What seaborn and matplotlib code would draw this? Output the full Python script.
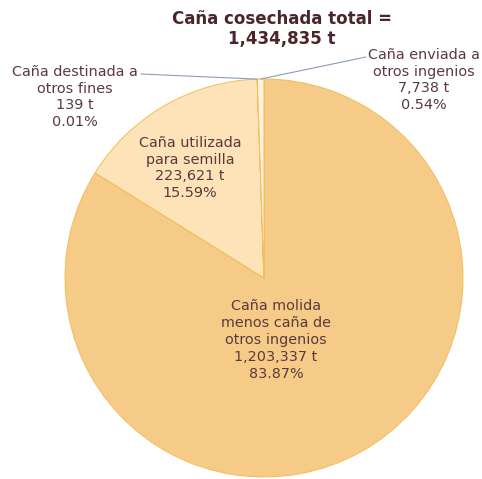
import numpy as np
import matplotlib
matplotlib.use("Agg")
import matplotlib.pyplot as plt
import seaborn as sns

# data
labels = [
    "Caña molida\nmenos caña de\notros ingenios",
    "Caña utilizada\npara semilla",
    "Caña destinada a\notros fines",
    "Caña enviada a\notros ingenios",
]
tons = [1203337, 223621, 139, 7738]
shares = ["83.87%", "15.59%", "0.01%", "0.54%"]
total_label = "1,434,835 t"

COLORS = ["#F6CB88", "#FDE3B7", "#FFF6E8", "#FFF1DC"]
TEXT_COLOR = "#5A3A3E"
TITLE_COLOR = "#4A2529"
LEADER_COLOR = "#8C9DB8"

sns.set_style("white")
plt.rcParams['font.family'] = ['DejaVu Sans']

W, H = 482, 479
fig = plt.figure(figsize=(W / 100, H / 100), dpi=100)
fig.patch.set_facecolor("white")

# pie centre and radius in pixels
cx, cy, r = 264, 278, 199
ax = fig.add_axes([(cx - r) / W, (H - cy - r) / H, 2 * r / W, 2 * r / H])

wedges, _ = ax.pie(
    tons,
    colors=COLORS,
    startangle=90,
    counterclock=False,
    radius=1,
    wedgeprops=dict(edgecolor="#EFBE55", linewidth=0.7),
)
ax.set_xlim(-1, 1)
ax.set_ylim(-1, 1)
ax.set_aspect("equal")
ax.axis("off")


def px(x, y):
    # pixel position -> data position of the pie axes
    return (x - cx) / r, (cy - y) / r


def fmt(v):
    return f"{v:,} t"


FS = 10.4

# labels inside the two big slices
pos_inside = [(276, 340), (190, 168)]
for i, (x, y) in enumerate(pos_inside):
    tx, ty = px(x, y)
    ax.text(tx, ty, f"{labels[i]}\n{fmt(tons[i])}\n{shares[i]}",
            ha="center", va="center", fontsize=FS, color=TEXT_COLOR,
            linespacing=1.25)

# outside labels with leader lines
pos_outside = {2: (75, 97), 3: (424, 80)}
line_start = {2: (141, 74), 3: (366, 57)}
for i, (x, y) in pos_outside.items():
    tx, ty = px(x, y)
    ax.text(tx, ty, f"{labels[i]}\n{fmt(tons[i])}\n{shares[i]}",
            ha="center", va="center", fontsize=FS, color=TEXT_COLOR,
            linespacing=1.25)
    w = wedges[i]
    ang = np.deg2rad((w.theta1 + w.theta2) / 2)
    ax.annotate("", xy=(np.cos(ang), np.sin(ang)), xytext=px(*line_start[i]),
                arrowprops=dict(arrowstyle="-", color=LEADER_COLOR, lw=0.8,
                                shrinkA=0, shrinkB=0),
                annotation_clip=False)

fig.text(282 / W, 1 - 29 / H, "Caña cosechada total =\n" + total_label,
         ha="center", va="center", fontsize=12, fontweight="bold",
         color=TITLE_COLOR, linespacing=1.2)

fig.savefig("out.png", dpi=100, facecolor="white")
